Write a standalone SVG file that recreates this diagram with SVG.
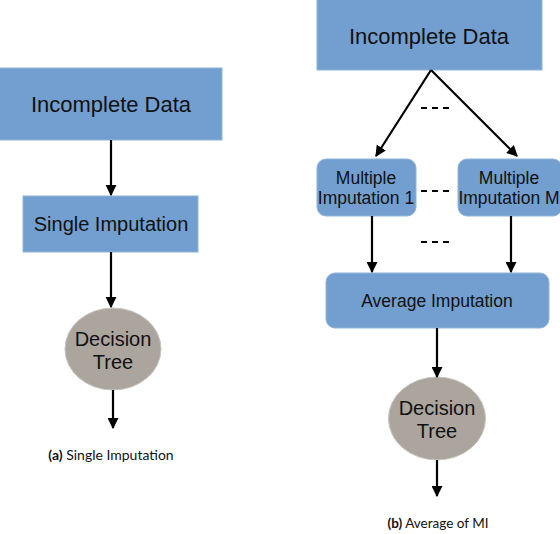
<svg xmlns="http://www.w3.org/2000/svg" width="560" height="534" viewBox="0 0 560 534">
<defs>
<marker id="ah" viewBox="0 0 10 10" refX="9" refY="5" markerWidth="5" markerHeight="5" orient="auto" markerUnits="strokeWidth">
<path d="M0,0 L10,5 L0,10 z" fill="#000"/>
</marker>
<style>
.box{fill:#729fcf;stroke:#8fb3da;stroke-width:1}
.ell{fill:#aba59e;stroke:#c8c4bf;stroke-width:1}
.t{font-family:"Liberation Sans",Arial,sans-serif;fill:#111;text-anchor:middle}
.c{font-family:Lato,"Open Sans",sans-serif;fill:#111;text-anchor:middle}
.ar{stroke:#000;stroke-width:2.2;fill:none;marker-end:url(#ah)}
.d{stroke:#000;stroke-width:2.2;stroke-dasharray:6,5}
</style>
</defs>
<rect width="560" height="534" fill="#fff"/>
<g id="left-incomplete"><rect class="box" x="-1" y="68" width="223" height="72"/><text class="t" x="111" y="112" font-size="22">Incomplete Data</text></g>
<g id="left-single"><rect class="box" x="23" y="196" width="175" height="56"/><text class="t" x="111" y="231" font-size="20">Single Imputation</text></g>
<g id="left-tree"><ellipse class="ell" cx="113" cy="349" rx="48" ry="41"/><text class="t" x="113" y="346" font-size="20">Decision</text><text class="t" x="113" y="369" font-size="20">Tree</text></g>
<g id="right-incomplete"><rect class="box" x="317" y="-1" width="225" height="71"/><text class="t" x="429" y="44" font-size="22">Incomplete Data</text></g>
<g id="right-mi1"><rect class="box" x="317" y="159" width="99" height="57" rx="9"/><text class="t" x="366" y="184" font-size="17.5">Multiple</text><text class="t" x="366" y="204" font-size="17.5">Imputation 1</text></g>
<g id="right-miM"><rect class="box" x="458" y="159" width="104" height="57" rx="9"/><text class="t" x="509" y="184" font-size="17.5">Multiple</text><text class="t" x="509" y="204" font-size="17.5">Imputation M</text></g>
<g id="right-avg"><rect class="box" x="326" y="273" width="223" height="55" rx="9"/><text class="t" x="437" y="307" font-size="17.5">Average Imputation</text></g>
<g id="right-tree"><ellipse class="ell" cx="437" cy="418.5" rx="48.5" ry="41.5"/><text class="t" x="437" y="415" font-size="20">Decision</text><text class="t" x="437" y="438" font-size="20">Tree</text></g>
<g id="connectors">
<line class="ar" x1="111" y1="140" x2="111" y2="195"/>
<line class="ar" x1="111" y1="252" x2="111" y2="307"/>
<line class="ar" x1="113" y1="390" x2="113" y2="428"/>
<line class="ar" x1="431" y1="70" x2="376" y2="156"/>
<line class="ar" x1="431" y1="70" x2="517" y2="156"/>
<line class="ar" x1="372" y1="216" x2="372" y2="272"/>
<line class="ar" x1="511" y1="216" x2="511" y2="272"/>
<line class="ar" x1="437" y1="328" x2="437" y2="377"/>
<line class="ar" x1="437" y1="460" x2="437" y2="496"/>
<line class="d" x1="421" y1="108" x2="454" y2="108"/>
<line class="d" x1="421" y1="191" x2="454" y2="191"/>
<line class="d" x1="421" y1="242" x2="454" y2="242"/>
</g>
<text class="c" x="111" y="460" font-size="14"><tspan font-weight="bold">(a)</tspan> Single Imputation</text>
<text class="c" x="438" y="528" font-size="13.5"><tspan font-weight="bold">(b)</tspan> Average of MI</text>
</svg>
